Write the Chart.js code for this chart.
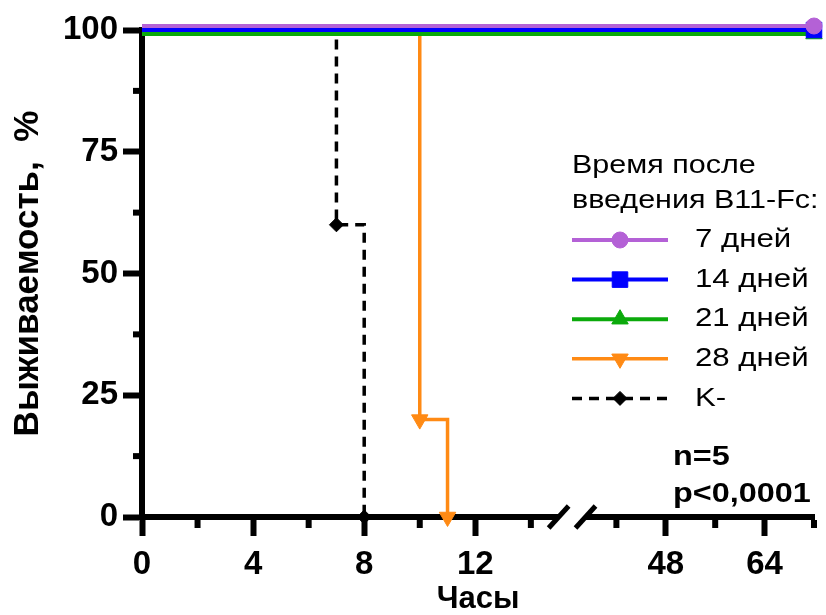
<!doctype html>
<html lang="ru">
<head>
<meta charset="utf-8">
<title>Выживаемость</title>
<script src="https://cdn.jsdelivr.net/npm/chart.js@4.4.1/dist/chart.umd.min.js"></script>
<style>
  html, body { margin: 0; padding: 0; background: #fff; }
  #wrap { width: 826px; height: 615px; }
</style>
</head>
<body>
<div id="wrap"><canvas id="chart" width="826" height="615"></canvas></div>
<script>
// время (часы) и выживаемость (%) по группам
var hours7 = [0, 72];      var surv7 = [100, 100];
var hours14 = [0, 72];     var surv14 = [100, 100];
var hours21 = [0, 72];     var surv21 = [100, 100];
var hours28 = [0, 10, 11]; var surv28 = [100, 20, 0];
var hoursK = [0, 7, 8];    var survK = [100, 60, 0];

var seriesLabels = ['7 дней', '14 дней', '21 дней', '28 дней', 'K-'];
var xTicks = [0, 4, 8, 12, 48, 64];
var xMinorTicks = [2, 6, 10, 14, 40, 56, 72];
var yTicks = [0, 25, 50, 75, 100];
var yMinorTicks = [12.5, 37.5, 62.5, 87.5];
var legendTitle = ['Время после', 'введения B11-Fc:'];
var notes = ['n=5', 'p<0,0001'];

var FONT = "'Liberation Sans', Arial, sans-serif";

// линейная шкала с разрывом (15..35 ч)
class BrokenLinearScale extends Chart.LinearScale {
  _frac(v) {
    var b = this.options.axisBreak;
    if (v <= b.from) return (v - this.min) / (b.from - this.min) * b.startFrac;
    if (v >= b.to) return b.endFrac + (v - b.to) / (this.max - b.to) * (1 - b.endFrac);
    return b.startFrac + (v - b.from) / (b.to - b.from) * (b.endFrac - b.startFrac);
  }
  getPixelForValue(value) {
    return this.left + this._frac(+value) * this.width;
  }
  getValueForPixel(pixel) {
    var b = this.options.axisBreak;
    var f = (pixel - this.left) / this.width;
    if (f <= b.startFrac) return this.min + f / b.startFrac * (b.from - this.min);
    if (f >= b.endFrac) return b.to + (f - b.endFrac) / (1 - b.endFrac) * (this.max - b.to);
    return b.from + (f - b.startFrac) / (b.endFrac - b.startFrac) * (b.to - b.from);
  }
}
BrokenLinearScale.id = 'brokenLinear';
BrokenLinearScale.defaults = Chart.LinearScale.defaults;
Chart.register(BrokenLinearScale);

function toPoints(xs, ys) {
  return xs.map(function (x, i) { return {x: x, y: ys[i]}; });
}

function survSet(label, xs, ys, color, width, style, radius, extra) {
  var ds = {
    label: label,
    data: toPoints(xs, ys),
    borderColor: color,
    backgroundColor: color,
    borderWidth: width,
    stepped: 'before',
    tension: 0,
    fill: false,
    clip: false,
    pointStyle: style,
    pointRadius: xs.map(function (x, i) { return i === 0 ? 0 : radius; }),
    pointBackgroundColor: color,
    pointBorderColor: color,
    pointBorderWidth: 1,
    legendRadius: radius,
    nudge: 0
  };
  for (var k in extra) ds[k] = extra[k];
  return ds;
}

var decor = {
  id: 'decor',
  beforeDatasetsDraw: function (chart) {
    var ctx = chart.ctx, a = chart.chartArea;
    var xs = chart.scales.x, ys = chart.scales.y;
    ctx.save();
    ctx.strokeStyle = '#000';
    ctx.lineWidth = 6;
    xMinorTicks.forEach(function (v) {
      var px = xs.getPixelForValue(v);
      ctx.beginPath(); ctx.moveTo(px, a.bottom + 3); ctx.lineTo(px, a.bottom + 11); ctx.stroke();
    });
    yMinorTicks.forEach(function (v) {
      var py = ys.getPixelForValue(v);
      ctx.beginPath(); ctx.moveTo(a.left - 9, py); ctx.lineTo(a.left - 3, py); ctx.stroke();
    });
    // разрыв оси
    var br = xs.options.axisBreak;
    var p1 = xs.getPixelForValue(br.from), p2 = xs.getPixelForValue(br.to);
    ctx.fillStyle = '#fff';
    ctx.fillRect(p1, a.bottom - 5, p2 - p1, 10);
    ctx.lineWidth = 5;
    [p1, p2].forEach(function (px) {
      ctx.beginPath(); ctx.moveTo(px - 10, a.bottom + 11); ctx.lineTo(px + 10, a.bottom - 11); ctx.stroke();
    });
    ctx.restore();
  },
  beforeDatasetDraw: function (chart, args) {
    var ds = chart.data.datasets[args.index];
    chart.ctx.save();
    chart.ctx.translate(0, ds.nudge || 0);
  },
  afterDatasetDraw: function (chart) {
    chart.ctx.restore();
  },
  afterDraw: function (chart) {
    var ctx = chart.ctx;
    function stretched(text, x, y, sx) {
      ctx.save(); ctx.translate(x, y); ctx.scale(sx, 1); ctx.fillText(text, 0, 0); ctx.restore();
    }
    ctx.save();
    ctx.fillStyle = '#000';
    ctx.textAlign = 'left';
    ctx.textBaseline = 'alphabetic';
    ctx.font = '25px ' + FONT;
    stretched(legendTitle[0], 572, 173, 1.22);
    stretched(legendTitle[1], 572, 208, 1.22);

    chart.data.datasets.forEach(function (ds, i) {
      var y = 240 + i * 39.6;
      ctx.save();
      ctx.strokeStyle = ds.borderColor;
      ctx.lineWidth = ds.borderWidth;
      ctx.setLineDash(ds.borderDash || []);
      ctx.beginPath(); ctx.moveTo(572, y); ctx.lineTo(668, y); ctx.stroke();
      ctx.restore();
      ctx.save();
      ctx.fillStyle = ds.pointBackgroundColor;
      ctx.strokeStyle = ds.pointBorderColor;
      ctx.lineWidth = 1;
      Chart.helpers.drawPoint(ctx, {
        pointStyle: ds.pointStyle, radius: ds.legendRadius,
        rotation: ds.pointRotation || 0, borderWidth: 1
      }, 620, y);
      ctx.restore();
      ctx.fillStyle = '#000';
      ctx.font = '26px ' + FONT;
      ctx.textBaseline = 'middle';
      stretched(ds.label, 695, y, 1.2);
    });

    ctx.font = 'bold 27px ' + FONT;
    ctx.textBaseline = 'alphabetic';
    stretched(notes[0], 673, 465, 1.2);
    stretched(notes[1], 673, 502, 1.2);
    ctx.restore();
  }
};

var tickFont = {family: FONT, size: 33, weight: 'bold'};

new Chart(document.getElementById('chart'), {
  type: 'line',
  data: {
    datasets: [
      survSet(seriesLabels[0], hours7, surv7, '#B461D6', 4, 'circle', 8, {nudge: -4}),
      survSet(seriesLabels[1], hours14, surv14, '#0000FF', 4, 'rect', 11, {}),
      survSet(seriesLabels[2], hours21, surv21, '#0BAA0B', 4, 'triangle', 9.5, {nudge: 4}),
      survSet(seriesLabels[3], hours28, surv28, '#FF8A14', 3.5, 'triangle', 9.5, {pointRotation: 180}),
      survSet(seriesLabels[4], hoursK, survK, '#000000', 3.5, 'rectRot', 7, {borderDash: [10, 7]})
    ]
  },
  options: {
    responsive: false,
    animation: false,
    events: [],
    layout: {padding: {left: 0, right: 6, top: 30, bottom: 0}},
    plugins: {legend: {display: false}, tooltip: {enabled: false}},
    scales: {
      x: {
        type: 'brokenLinear',
        position: 'bottom',
        min: 0,
        max: 72,
        axisBreak: {from: 15, to: 35, startFrac: 0.62, endFrac: 0.66},
        afterBuildTicks: function (s) { s.ticks = xTicks.map(function (v) { return {value: v}; }); },
        afterFit: function (s) { s.height = 98; s.paddingLeft = 0; s.paddingRight = 0; },
        grid: {drawOnChartArea: false, tickLength: 19, tickWidth: 6, tickColor: '#000'},
        border: {display: true, color: '#000', width: 6},
        ticks: {autoSkip: false, maxRotation: 0, padding: 9, color: '#000', font: tickFont},
        title: {
          display: true, text: 'Часы', color: '#000',
          font: {family: FONT, size: 31, weight: 'bold', lineHeight: 1},
          padding: {top: 0, bottom: 0}
        }
      },
      y: {
        min: 0,
        max: 100,
        afterBuildTicks: function (s) { s.ticks = yTicks.map(function (v) { return {value: v}; }); },
        afterFit: function (s) { s.width = 142; s.paddingTop = 0; s.paddingBottom = 0; },
        grid: {drawOnChartArea: false, tickLength: 19, tickWidth: 6, tickColor: '#000'},
        border: {display: true, color: '#000', width: 6},
        ticks: {padding: 5, color: '#000', font: tickFont},
        title: {
          display: true, text: 'Выживаемость,  %', color: '#000',
          font: {family: FONT, size: 35, weight: 'bold'},
          padding: {top: 7, bottom: 0}
        }
      }
    }
  },
  plugins: [decor]
});
</script>
</body>
</html>
